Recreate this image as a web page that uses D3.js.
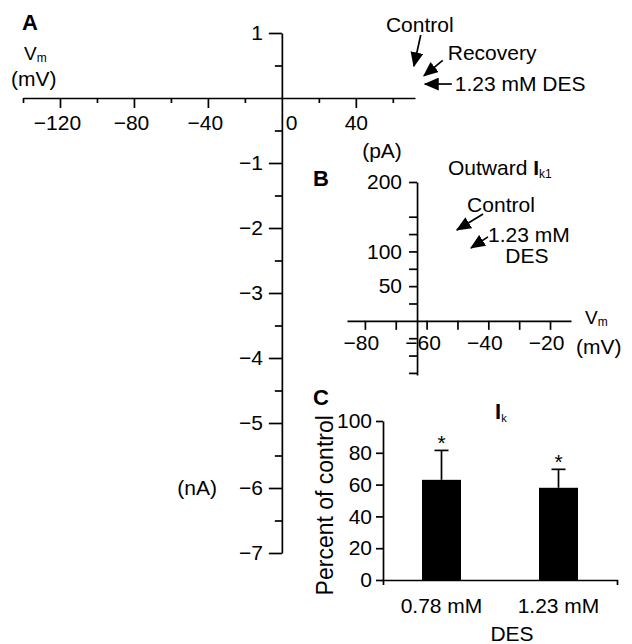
<html>
<head>
<meta charset="utf-8">
<script src="https://d3js.org/d3.v7.min.js"></script>
<style>
  body { margin: 0; background: #fff; }
  text { font-family: "Liberation Sans", Arial, sans-serif; fill: #000; }
</style>
</head>
<body>
<svg width="632" height="644" id="fig"></svg>
<script>
// ---- panel A: I-V axes (nA vs mV)
var aXMajor = [-120, -80, -40, 40];
var aXMinor = [-140, -100, -60, -20, 20, 60];
var aYMajor = [1, -1, -2, -3, -4, -5, -6, -7];
var aYMinor = [0.5, -0.5, -1.5, -2.5, -3.5, -4.5, -5.5, -6.5];
var aNotes = ["Control", "Recovery", "1.23 mM DES"];
var aNoteAnchor = ["middle", "start", "start"];
var aNoteText = [[74.6, 1.015], [89.7, 0.585], [93.5, 0.108]];
var aNoteTail = [[75.1, 0.97], [87, 0.58], [91.9, 0.215]];
var aNoteTip = [[71.4, 0.49], [76.8, 0.34], [77.3, 0.215]];

// ---- panel B: outward Ik1 (pA vs mV)
var bXTicks = [-80, -70, -60, -50, -40, -30, -20];
var bXLabels = [-80, -60, -40, -20];
var bYTicks = [200, 150, 125, 100, 75, 50, 25, -25, -50, -75];
var bYLabels = [200, 100, 50];
var bYCross = -63.1;
var bNotes = ["Control", "1.23 mM", "DES"];
var bNoteAnchor = ["middle", "start", "middle"];
var bNoteText = [[-35.9, 156.8], [-40.1, 113.7], [-27.5, 83.5]];
var bNoteTail = [[-41.7, 154], [-40.1, 121]];
var bNoteTip = [[-50.2, 131], [-45.6, 105]];

// ---- panel C: Ik percent of control
var cats = ["0.78 mM", "1.23 mM"];
var pct = [63, 58];
var sem = [18.5, 11.6];
var cTicks = [0, 20, 40, 60, 80, 100];

var fmt = d3.format("d");
var svg = d3.select("#fig");
var FS = 21;

svg.append("defs").append("marker")
    .attr("id", "head")
    .attr("markerUnits", "userSpaceOnUse")
    .attr("viewBox", "0 0 14 12")
    .attr("refX", 13).attr("refY", 6)
    .attr("markerWidth", 15).attr("markerHeight", 13)
    .attr("orient", "auto")
  .append("path").attr("d", "M0,0 L14,6 L0,12 Z").attr("fill", "#000");

function styleAxis(g) {
    g.attr("font-family", null).attr("font-size", null);
    g.selectAll("path, line").attr("stroke", "#000").attr("stroke-width", 1.7);
    g.selectAll("text").attr("font-size", FS).attr("fill", "#000");
}

// ================= A
var xA = d3.scaleLinear().domain([-140, 72]).range([23, 415]);
var yA = d3.scaleLinear().domain([-7, 1]).range([553, 33]);

var gax = svg.append("g").attr("transform", "translate(0," + yA(0) + ")")
    .call(d3.axisBottom(xA).tickValues(aXMajor).tickSize(10).tickPadding(7).tickSizeOuter(0).tickFormat(fmt))
    .call(styleAxis);
gax.selectAll(".tick text").attr("dx", function(d) { return d < 0 ? -3 : 0; });
svg.append("g").attr("transform", "translate(0," + yA(0) + ")")
    .call(d3.axisBottom(xA).tickValues(aXMinor).tickSize(5).tickFormat(""))
    .call(styleAxis).select(".domain").remove();

svg.append("g").attr("transform", "translate(" + xA(0) + ",0)")
    .call(d3.axisLeft(yA).tickValues(aYMajor).tickSize(13).tickPadding(6).tickSizeOuter(0).tickFormat(fmt))
    .call(styleAxis);
svg.append("g").attr("transform", "translate(" + xA(0) + ",0)")
    .call(d3.axisLeft(yA).tickValues(aYMinor).tickSize(7).tickFormat(""))
    .call(styleAxis).select(".domain").remove();

svg.append("text").attr("x", xA(0) + 4).attr("y", 130).attr("font-size", FS).text("0");
svg.append("text").attr("x", 22).attr("y", 30).attr("font-size", 22).attr("font-weight", "bold").text("A");
var vmA = svg.append("text").attr("x", 24).attr("y", 60).attr("font-size", 19);
vmA.append("tspan").text("V");
vmA.append("tspan").attr("font-size", 12).attr("dy", 2).text("m");
svg.append("text").attr("x", 11).attr("y", 86).attr("font-size", FS).text("(mV)");
svg.append("text").attr("x", 217).attr("y", yA(-6)).attr("dy", "0.35em")
    .attr("text-anchor", "end").attr("font-size", FS).text("(nA)");

aNotes.forEach(function(t, i) {
    svg.append("text").attr("x", xA(aNoteText[i][0])).attr("y", yA(aNoteText[i][1]))
        .attr("text-anchor", aNoteAnchor[i]).attr("font-size", FS).text(t);
    svg.append("line")
        .attr("x1", xA(aNoteTail[i][0])).attr("y1", yA(aNoteTail[i][1]))
        .attr("x2", xA(aNoteTip[i][0])).attr("y2", yA(aNoteTip[i][1]))
        .attr("stroke", "#000").attr("stroke-width", 1.7).attr("marker-end", "url(#head)");
});

// ================= B
var xB = d3.scaleLinear().domain([-85.8, -13.2]).range([347, 571]);
var yB = d3.scaleLinear().domain([-78, 200]).range([375, 182]);

svg.append("g").attr("transform", "translate(0," + yB(0) + ")")
    .call(d3.axisBottom(xB).tickValues(bXTicks).tickSize(9).tickPadding(5).tickSizeOuter(0)
        .tickFormat(function(d) { return bXLabels.indexOf(d) >= 0 ? fmt(d) : ""; }))
    .call(styleAxis)
    .selectAll(".tick text").attr("dx", -4);

svg.append("g").attr("transform", "translate(" + xB(bYCross) + ",0)")
    .call(d3.axisLeft(yB).tickValues(bYTicks).tickSize(8).tickPadding(7).tickSizeOuter(0)
        .tickFormat(function(d) { return bYLabels.indexOf(d) >= 0 ? fmt(d) : ""; }))
    .call(styleAxis);

svg.append("text").attr("x", 313).attr("y", 186).attr("font-size", 22).attr("font-weight", "bold").text("B");
svg.append("text").attr("x", 382).attr("y", 158).attr("text-anchor", "middle").attr("font-size", FS).text("(pA)");
var tB = svg.append("text").attr("x", 448).attr("y", 175).attr("font-size", FS);
tB.append("tspan").text("Outward ");
tB.append("tspan").attr("font-weight", "bold").text("I");
tB.append("tspan").attr("font-size", 12).attr("dy", 3).text("k1");
var vmB = svg.append("text").attr("x", 585).attr("y", 324).attr("font-size", 19);
vmB.append("tspan").text("V");
vmB.append("tspan").attr("font-size", 12).attr("dy", 2).text("m");
svg.append("text").attr("x", 576).attr("y", 354).attr("font-size", FS).text("(mV)");

bNotes.forEach(function(t, i) {
    svg.append("text").attr("x", xB(bNoteText[i][0])).attr("y", yB(bNoteText[i][1]))
        .attr("text-anchor", bNoteAnchor[i]).attr("font-size", FS).text(t);
});
bNoteTail.forEach(function(p, i) {
    svg.append("line")
        .attr("x1", xB(p[0])).attr("y1", yB(p[1]))
        .attr("x2", xB(bNoteTip[i][0])).attr("y2", yB(bNoteTip[i][1]))
        .attr("stroke", "#000").attr("stroke-width", 1.7).attr("marker-end", "url(#head)");
});

// ================= C
var xC = d3.scaleBand().domain(cats).range([383, 617]).paddingInner(2 / 3).paddingOuter(1 / 3);
var yC = d3.scaleLinear().domain([0, 100]).range([580, 421]);

svg.selectAll(".bar").data(cats).enter().append("rect")
    .attr("class", "bar")
    .attr("x", function(d) { return xC(d); })
    .attr("width", xC.bandwidth())
    .attr("y", function(d, i) { return yC(pct[i]); })
    .attr("height", function(d, i) { return yC(0) - yC(pct[i]); })
    .attr("fill", "#000");

var eb = svg.selectAll(".err").data(cats).enter().append("g").attr("class", "err");
eb.append("line")
    .attr("x1", function(d) { return xC(d) + xC.bandwidth() / 2; })
    .attr("x2", function(d) { return xC(d) + xC.bandwidth() / 2; })
    .attr("y1", function(d, i) { return yC(pct[i]); })
    .attr("y2", function(d, i) { return yC(pct[i] + sem[i]); });
eb.append("line")
    .attr("x1", function(d) { return xC(d) + xC.bandwidth() / 2 - 7; })
    .attr("x2", function(d) { return xC(d) + xC.bandwidth() / 2 + 7; })
    .attr("y1", function(d, i) { return yC(pct[i] + sem[i]); })
    .attr("y2", function(d, i) { return yC(pct[i] + sem[i]); });
eb.selectAll("line").attr("stroke", "#000").attr("stroke-width", 1.7);
eb.append("text")
    .attr("x", function(d) { return xC(d) + xC.bandwidth() / 2; })
    .attr("y", function(d, i) { return yC(pct[i] + sem[i]); })
    .attr("text-anchor", "middle").attr("font-size", FS).text("*");

svg.append("g").attr("transform", "translate(383,0)")
    .call(d3.axisLeft(yC).tickValues(cTicks).tickSize(7).tickPadding(4).tickSizeOuter(0))
    .call(styleAxis);
svg.append("g").attr("transform", "translate(0," + yC(0) + ")")
    .call(d3.axisBottom(xC).tickSize(0).tickSizeOuter(5).tickPadding(18))
    .call(styleAxis);

svg.append("text").attr("x", 313).attr("y", 405).attr("font-size", 22).attr("font-weight", "bold").text("C");
var tC = svg.append("text").attr("x", 495).attr("y", 419).attr("font-size", 22);
tC.append("tspan").attr("font-weight", "bold").text("I");
tC.append("tspan").attr("font-size", 11).attr("dy", 3).text("k");
svg.append("text").attr("transform", "translate(333," + yC(47) + ") rotate(-90)")
    .attr("text-anchor", "middle").attr("font-size", 23).text("Percent of control");
svg.append("text").attr("x", 512).attr("y", 641)
    .attr("text-anchor", "middle").attr("font-size", FS).text("DES");
</script>
</body>
</html>
